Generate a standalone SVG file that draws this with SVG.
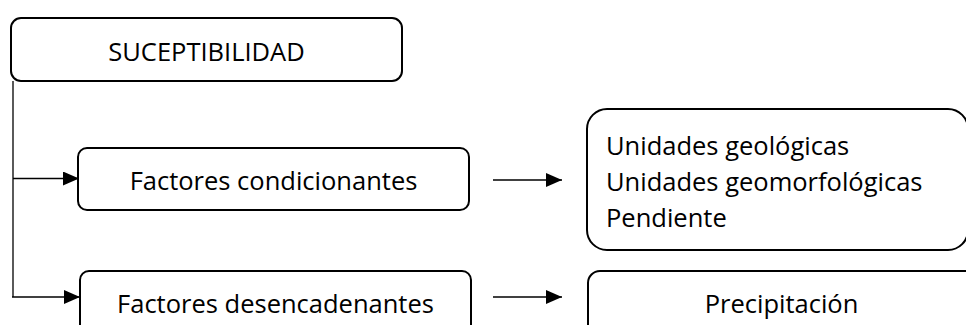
<svg xmlns="http://www.w3.org/2000/svg" width="966" height="325" viewBox="0 0 966 325">
<defs>
<style>
.box{fill:#fff;stroke:#000;stroke-width:2}
.t{font-family:"Open Sans","Liberation Sans",sans-serif;font-size:25.5px;fill:#000}
.c{fill:none;stroke:#000;stroke-width:1.3}
</style>
<marker id="ah" markerUnits="userSpaceOnUse" markerWidth="16" markerHeight="14" refX="16" refY="7" orient="auto">
<path d="M0,0 L16,7 L0,14 Z" fill="#000"/>
</marker>
</defs>
<rect width="966" height="325" fill="#fff"/>
<g id="connectors">
<path class="c" d="M13,81 V297"/>
<path class="c" d="M13,178.5 H79" marker-end="url(#ah)"/>
<path class="c" d="M12,297 H80" marker-end="url(#ah)"/>
<path class="c" d="M493,180 H562" marker-end="url(#ah)"/>
<path class="c" d="M493,297 H562" marker-end="url(#ah)"/>
</g>
<g id="suceptibilidad">
<rect class="box" x="11" y="18" width="391" height="63" rx="10"/>
<text class="t" x="206.5" y="61" text-anchor="middle">SUCEPTIBILIDAD</text>
</g>
<g id="condicionantes">
<rect class="box" x="78" y="148" width="391" height="62" rx="9"/>
<text class="t" x="273.5" y="190" text-anchor="middle">Factores condicionantes</text>
</g>
<g id="desencadenantes">
<rect class="box" x="80" y="271" width="391" height="80" rx="9"/>
<text class="t" x="275.5" y="313" text-anchor="middle">Factores desencadenantes</text>
</g>
<g id="lista-condicionantes">
<rect class="box" x="587" y="109" width="381" height="141" rx="20"/>
<text class="t" x="606" y="155">Unidades geológicas</text>
<text class="t" x="606" y="191">Unidades geomorfológicas</text>
<text class="t" x="606" y="227">Pendiente</text>
</g>
<g id="precipitacion">
<rect class="box" x="588" y="271" width="400" height="80" rx="12"/>
<text class="t" x="781.5" y="313" text-anchor="middle">Precipitación</text>
</g>
</svg>
